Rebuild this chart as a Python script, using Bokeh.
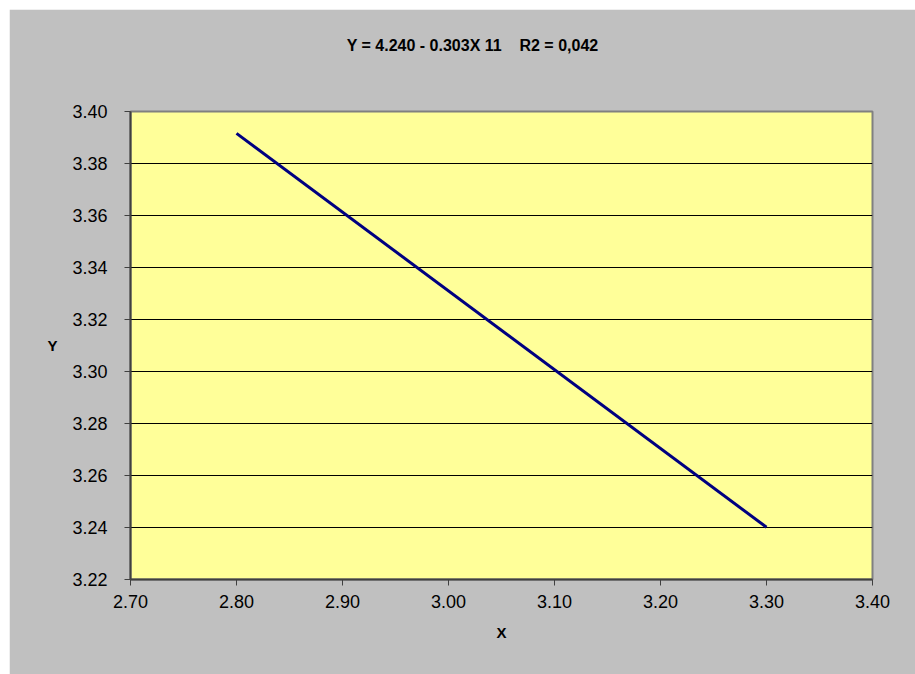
from bokeh.plotting import figure
from bokeh.models import Range1d, FixedTicker, NumeralTickFormatter, LinearAxis
from bokeh.embed import file_html
from bokeh.resources import INLINE

# data
x_vals = [2.80, 3.30]
y_vals = [3.3916, 3.2401]
x_ticks = [2.70, 2.80, 2.90, 3.00, 3.10, 3.20, 3.30, 3.40]
y_ticks = [3.22, 3.24, 3.26, 3.28, 3.30, 3.32, 3.34, 3.36, 3.38, 3.40]
title_text = "Y = 4.240 - 0.303X 11\u00a0\u00a0\u00a0 R2 = 0,042"

FONT = "Liberation Sans"
GRAY = "#C0C0C0"

p = figure(width=906, height=665, output_backend="svg", toolbar_location=None,
           x_range=Range1d(2.70, 3.40), y_range=Range1d(3.22, 3.40),
           min_border_left=121, min_border_right=43, min_border_top=102, min_border_bottom=95)
p.margin = (9, 0, 0, 9)
p.background_fill_color = "#FFFF99"
p.border_fill_color = GRAY
p.outline_line_color = "#808080"
p.outline_line_width = 2

xax = p.below[0]
yax = p.left[0]
xax.ticker = FixedTicker(ticks=x_ticks)
yax.ticker = FixedTicker(ticks=y_ticks)
for ax in (xax, yax):
    ax.formatter = NumeralTickFormatter(format="0.00")
    ax.major_label_text_font = FONT
    ax.major_label_text_font_size = "18px"
    ax.major_label_text_color = "#000000"
    ax.axis_line_color = "#404040"
    ax.axis_line_width = 2
    ax.major_tick_line_color = "#404040"
    ax.major_tick_line_width = 1
    ax.major_tick_in = 0
    ax.major_tick_out = 6
    ax.minor_tick_line_color = None
    ax.axis_label_text_font = FONT
    ax.axis_label_text_font_size = "15px"
    ax.axis_label_text_font_style = "bold"
    ax.axis_label_text_color = "#000000"
xax.major_label_standoff = 9
yax.major_label_standoff = 17

xax.axis_label = "X"
xax.axis_label_standoff = 13
yax.axis_label = "Y"
yax.axis_label_standoff = 12
try:
    yax.axis_label_orientation = "horizontal"
except Exception:
    pass

p.xgrid.grid_line_color = None
p.ygrid.grid_line_color = "#000000"
p.ygrid.grid_line_width = 1

# chart title, drawn as the label of a bare axis above the plot area
# (trailing no-break spaces shift its centre left as in the reference)
top_axis = LinearAxis(ticker=FixedTicker(ticks=[]), axis_label=title_text + "\u00a0" * 13,
                      axis_line_color=None, major_tick_line_color=None,
                      minor_tick_line_color=None, major_label_text_font_size="0px",
                      axis_label_standoff=58,
                      axis_label_text_font=FONT, axis_label_text_font_size="16px",
                      axis_label_text_font_style="bold", axis_label_text_color="#000000")
p.add_layout(top_axis, "above")

p.line(x_vals, y_vals, line_color="#000080", line_width=3)

open("out.html", "w").write(file_html(p, INLINE))
